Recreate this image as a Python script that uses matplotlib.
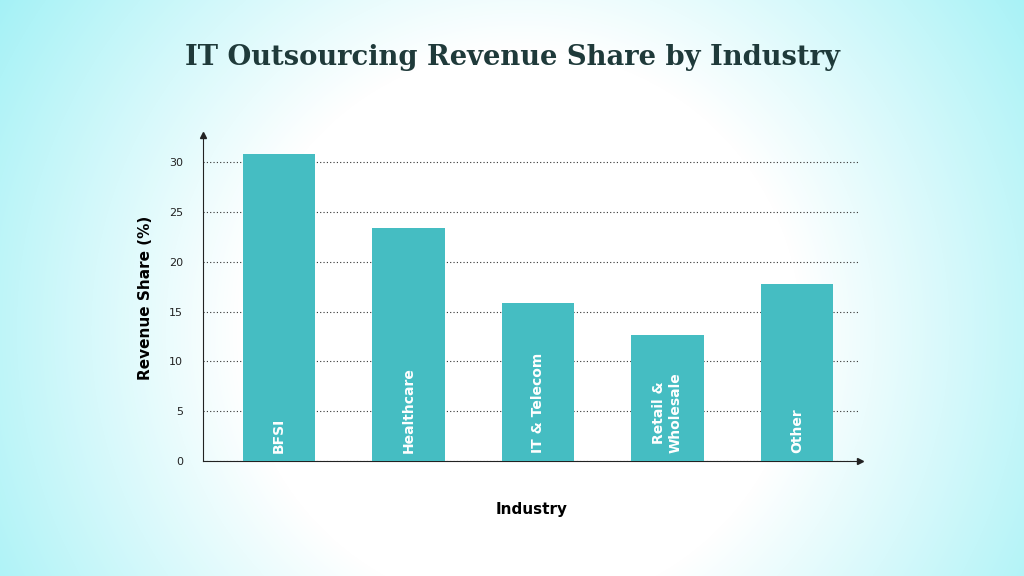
import matplotlib.pyplot as plt
import numpy as np

industries = ['BFSI', 'Healthcare', 'IT & Telecom', 'Retail &\nWholesale', 'Other']
shares = [30.8, 23.4, 15.9, 12.6, 17.8]
yticks = [0, 5, 10, 15, 20, 25, 30]

fig = plt.figure(figsize=(10.24, 5.76), dpi=100)

# background: cyan gradient with soft white circle
bg = fig.add_axes([0, 0, 1, 1])
yy, xx = np.mgrid[0:576, 0:1024]
d = np.sqrt((xx - 520) ** 2 + (yy - 330) ** 2)
t = np.clip((d - 280) / 380, 0, 1)
white = np.array([1.0, 1.0, 1.0])
cyan = np.array([0.6, 0.94, 0.96])
img = white * (1 - t[..., None]) + cyan * t[..., None]
bg.imshow(img, aspect='auto')
bg.axis('off')

fig.text(0.5, 0.9, 'IT Outsourcing Revenue Share by Industry', ha='center', va='center',
         fontsize=19.7, fontweight='bold', family='DejaVu Serif', color='#1f3a3a')

ax = fig.add_axes([0.198, 0.2, 0.642, 0.565])
ax.set_facecolor('none')
x = np.arange(len(industries))
bars = ax.bar(x, shares, width=0.56, color='#45bdc2', zorder=3)
for xi, lab in zip(x, industries):
    ax.text(xi, 0.8, lab, rotation=90, ha='center', va='bottom', color='white',
            fontsize=10, fontweight='bold', zorder=4)

ax.set_xlim(-0.587, 4.487)
ax.set_ylim(0, 32.7)
ax.set_yticks(yticks)
ax.set_xticks([])
ax.tick_params(axis='y', length=0, labelsize=8, colors='#222222', pad=14)
ax.yaxis.grid(True, linestyle=(0, (1, 2)), color='#333333', linewidth=0.8, zorder=0)
for s in ['top', 'right']:
    ax.spines[s].set_visible(False)
for s in ['left', 'bottom']:
    ax.spines[s].set_color('#222222')
ax.plot(1, 0, '>', color='#222222', markersize=4, transform=ax.transAxes, clip_on=False)
ax.plot(0, 1, '^', color='#222222', markersize=4, transform=ax.transAxes, clip_on=False)
ax.set_ylabel('Revenue Share (%)', fontsize=11, fontweight='bold', labelpad=12)
ax.set_xlabel('Industry', fontsize=11, fontweight='bold', labelpad=30)

fig.savefig('out.png', dpi=100)
